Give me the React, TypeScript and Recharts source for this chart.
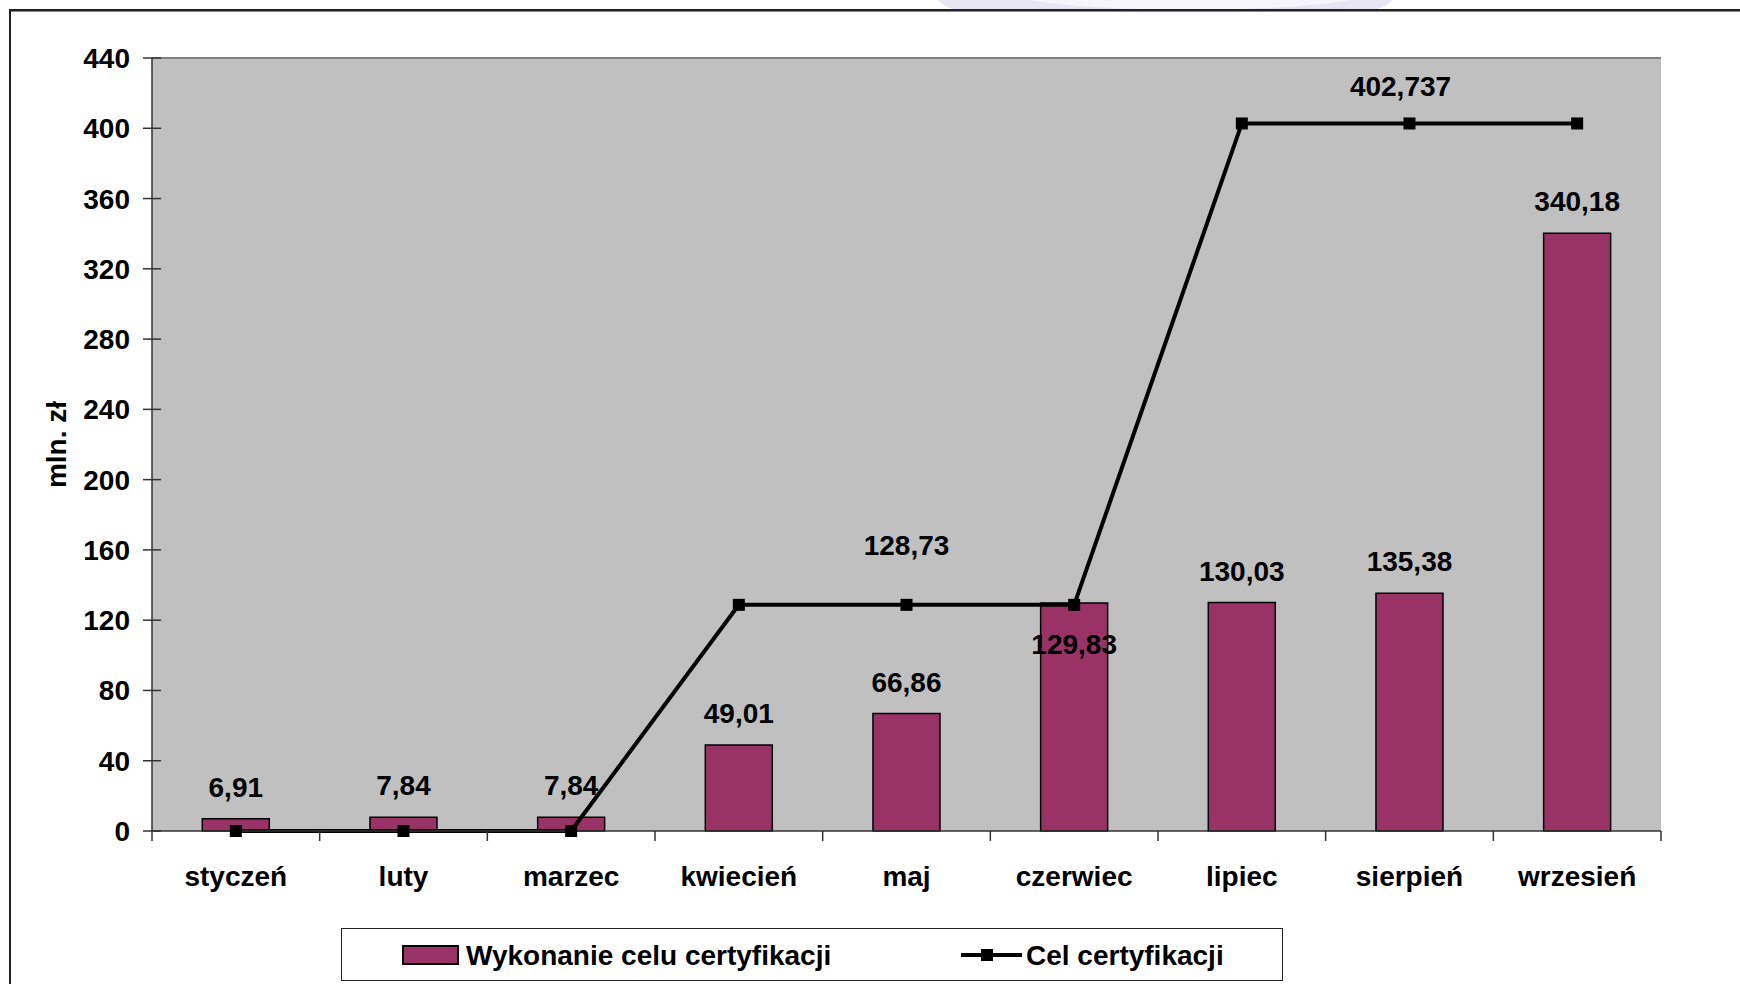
import React from 'react';
import {
  ComposedChart,
  Bar,
  Line,
  XAxis,
  YAxis,
  LabelList,
  CartesianGrid,
  ReferenceLine,
  Legend,
} from 'recharts';

const months = ['styczeń', 'luty', 'marzec', 'kwiecień', 'maj', 'czerwiec', 'lipiec', 'sierpień', 'wrzesień'];
const wykonanie = [6.91, 7.84, 7.84, 49.01, 66.86, 129.83, 130.03, 135.38, 340.18];
const cel = [0, 0, 0, 128.73, 128.73, 128.73, 402.737, 402.737, 402.737];
const yTicks = [0, 40, 80, 120, 160, 200, 240, 280, 320, 360, 400, 440];
const celLabelIndexes = [4, 7];
const seriesNames = ['Wykonanie celu certyfikacji', 'Cel certyfikacji'];

const data = months.map((m, i) => ({ month: m, wykonanie: wykonanie[i], cel: cel[i] }));

const FONT = '"Liberation Sans", Arial, Helvetica, sans-serif';
const FS = 28;
const W = 1740;
const H = 984;
const MARGIN = { top: 58, right: 79, bottom: 0, left: 0 };
const Y_AXIS_W = 152;
const X_AXIS_H = 153;
const BAND = (W - MARGIN.left - MARGIN.right - Y_AXIS_W) / months.length;
const BAR_FILL = '#993366';
const AXIS = '#333333';

const fmt = (v: number) => String(v).replace('.', ',');

const YTick = (props: any) => {
  const { x, y, payload } = props;
  return (
    <g>
      <line x1={x - 9} x2={x + 9} y1={y} y2={y} stroke={AXIS} strokeWidth={1.5} />
      <text x={x - 22} y={y + 10} textAnchor="end" fontFamily={FONT} fontWeight="bold" fontSize={FS} fill="#000">
        {payload.value}
      </text>
    </g>
  );
};

const XTick = (props: any) => {
  const { x, y, payload, index } = props;
  const half = BAND / 2;
  return (
    <g>
      <line x1={x - half} x2={x - half} y1={y} y2={y + 10} stroke={AXIS} strokeWidth={1.5} />
      {index === months.length - 1 && (
        <line x1={x + half} x2={x + half} y1={y} y2={y + 10} stroke={AXIS} strokeWidth={1.5} />
      )}
      <text x={x} y={y + 55} textAnchor="middle" fontFamily={FONT} fontWeight="bold" fontSize={FS} fill="#000">
        {payload.value}
      </text>
    </g>
  );
};

const BarLabel = (props: any) => {
  const { x, y, width, value, index } = props;
  const cx = x + width / 2;
  const ty = index === 5 ? y + 51 : y - 22;
  return (
    <text x={cx} y={ty} textAnchor="middle" fontFamily={FONT} fontWeight="bold" fontSize={FS} fill="#000">
      {fmt(value)}
    </text>
  );
};

const LineLabel = (props: any) => {
  const { x, y, value, index } = props;
  if (!celLabelIndexes.includes(index)) return null;
  const dy = index === 4 ? -50 : -27;
  const dx = index === 7 ? -9 : 0;
  return (
    <text x={x + dx} y={y + dy} textAnchor="middle" fontFamily={FONT} fontWeight="bold" fontSize={FS} fill="#000">
      {fmt(value)}
    </text>
  );
};

const SquareDot = (props: any) => {
  const { cx, cy, index } = props;
  if (cx == null || cy == null) return null;
  return <rect key={`d${index}`} x={cx - 6} y={cy - 6} width={12} height={12} fill="#000" />;
};

const LegendBox = () => (
  <div
    style={{
      width: 942,
      height: 53,
      border: '1.5px solid #222',
      boxSizing: 'border-box',
      background: '#fff',
      position: 'relative',
    }}
  >
    <svg width={942} height={53} style={{ position: 'absolute', left: -1.5, top: -1.5 }}>
      <rect x={62} y={18} width={55} height={18} fill={BAR_FILL} stroke="#000" strokeWidth={2} />
      <text x={125} y={37} fontFamily={FONT} fontWeight="bold" fontSize={FS} fill="#000">
        {seriesNames[0]}
      </text>
      <line x1={620} x2={681} y1={27} y2={27} stroke="#000" strokeWidth={4} />
      <rect x={640} y={21} width={12} height={12} fill="#000" />
      <text x={685} y={37} fontFamily={FONT} fontWeight="bold" fontSize={FS} fill="#000">
        {seriesNames[1]}
      </text>
    </svg>
  </div>
);

export default function App() {
  return (
    <div style={{ position: 'absolute', left: 0, top: 0, width: W, height: H, background: '#fff', overflow: 'hidden' }}>
      <div
        style={{
          position: 'absolute',
          left: 930,
          top: -20,
          width: 470,
          height: 30,
          background: '#E9E6F4',
          borderRadius: '0 0 60px 60px',
        }}
      />
      <div
        style={{
          position: 'absolute',
          left: 990,
          top: -40,
          width: 400,
          height: 50,
          background: '#F6F5FB',
          borderRadius: '50%',
        }}
      />
      <div style={{ position: 'absolute', left: 9, top: 9, width: W, height: 2, background: '#222' }} />
      <div style={{ position: 'absolute', left: 9, top: 11, width: W, height: 1, background: '#888' }} />
      <div style={{ position: 'absolute', left: 9, top: 9, width: 2, height: H, background: '#222' }} />
      <div style={{ position: 'absolute', left: 0, top: 0 }}>
        <ComposedChart width={W} height={H} data={data} margin={MARGIN} barCategoryGap="30%">
          <CartesianGrid horizontal={false} vertical={false} fill="#C0C0C0" stroke="none" />
          <XAxis
            dataKey="month"
            height={X_AXIS_H}
            interval={0}
            tickSize={0}
            tickMargin={0}
            tickLine={false}
            axisLine={{ stroke: AXIS, strokeWidth: 1.5 }}
            tick={<XTick />}
          />
          <YAxis
            width={Y_AXIS_W}
            domain={[0, 440]}
            ticks={yTicks}
            interval={0}
            tickSize={0}
            tickMargin={0}
            tickLine={false}
            axisLine={{ stroke: AXIS, strokeWidth: 1.5 }}
            tick={<YTick />}
            label={{
              content: (p: any) => {
                const vb = p.viewBox || { x: 0, y: 58, width: 152, height: 773 };
                return (
                  <text
                    transform={`translate(${vb.x + 66}, ${vb.y + vb.height / 2}) rotate(-90)`}
                    textAnchor="middle"
                    fontFamily={FONT}
                    fontWeight="bold"
                    fontSize={FS}
                    fill="#000"
                  >
                    mln. zł
                  </text>
                );
              },
            }}
          />
          <YAxis
            yAxisId="r"
            orientation="right"
            width={0}
            domain={[0, 440]}
            tick={false}
            tickLine={false}
            axisLine={{ stroke: '#808080', strokeWidth: 2 }}
          />
          <ReferenceLine y={440} stroke="#808080" strokeWidth={2} />
          <Bar dataKey="wykonanie" name={seriesNames[0]} fill={BAR_FILL} stroke="#000" strokeWidth={1.5} isAnimationActive={false}>
            <LabelList dataKey="wykonanie" content={<BarLabel />} />
          </Bar>
          <Line
            type="linear"
            dataKey="cel"
            name={seriesNames[1]}
            stroke="#000"
            strokeWidth={4}
            dot={<SquareDot />}
            activeDot={false}
            isAnimationActive={false}
          >
            <LabelList dataKey="cel" content={<LineLabel />} />
          </Line>
          <Legend
            layout="horizontal"
            verticalAlign="middle"
            align="center"
            wrapperStyle={{ left: 341, top: 928, width: 942, height: 53 }}
            content={() => <LegendBox />}
          />
        </ComposedChart>
      </div>
    </div>
  );
}
